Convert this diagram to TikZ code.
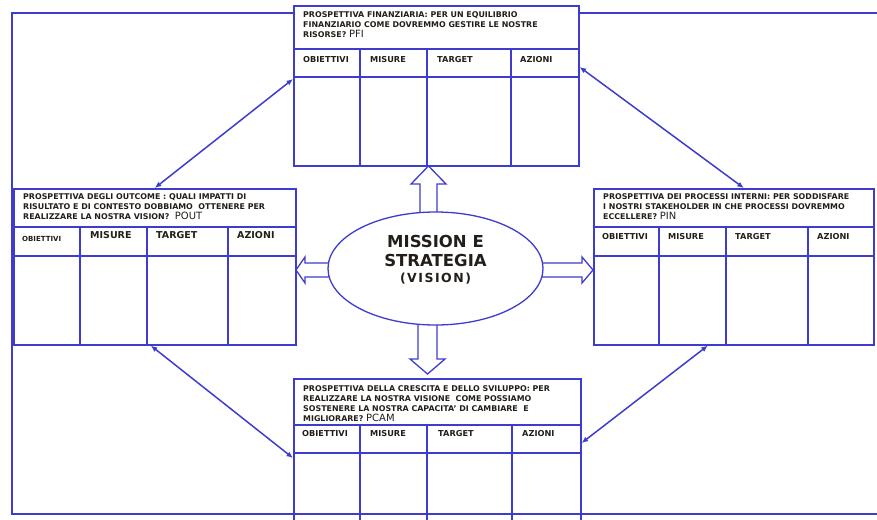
\documentclass[tikz,border=0pt]{standalone}
\usepackage{fontspec}
\setmainfont{DejaVu Sans}
\usetikzlibrary{shapes.geometric,arrows.meta}

\definecolor{blu}{RGB}{62,60,206}
\definecolor{inchiostro}{RGB}{35,30,25}

\tikzset{
  cornice/.style={draw=blu, line width=1.6pt, rectangle, inner sep=0pt, anchor=north west},
  griglia/.style={draw=blu, line width=1.6pt},
  domanda/.style={anchor=north west, inner sep=0pt, align=left, text=inchiostro, font=\fontsize{7.9}{10}\selectfont\bfseries},
  voce/.style={anchor=base west, inner sep=0pt, text=inchiostro, font=\fontsize{8.2}{9}\selectfont\bfseries},
  vocegrande/.style={voce, font=\fontsize{9.5}{10}\selectfont\bfseries},
  legame/.style={blu, line width=1.5pt, {Latex[length=6.5pt,width=5.5pt]}-{Latex[length=6.5pt,width=5.5pt]}},
  blocco/.style={draw=blu, line width=1.3pt, fill=white, line join=miter},
}
\newcommand{\sigla}[1]{{\fontsize{10}{10}\selectfont\mdseries #1}}

\begin{document}
\begin{tikzpicture}[x=1pt,y=-1pt]
\useasboundingbox (0,0) rectangle (877,519);

% cornice esterna
\draw[griglia] (877,13) -- (12,13) -- (12,514) -- (877,514);

% prospettiva finanziaria
\node[cornice, fill=white, minimum width=285pt, minimum height=43pt] (pfi) at (293,5) {};
\node[cornice, minimum width=285pt, minimum height=117pt] (pfitab) at (293,48) {};
\draw[griglia] (293,77) -- (578,77);
\foreach \x in {360,427,511}
  \draw[griglia] (\x,48) -- (\x,165);
\node[domanda] (pfitxt) at (303,11) {PROSPETTIVA FINANZIARIA: PER UN EQUILIBRIO\\FINANZIARIO COME DOVREMMO GESTIRE LE NOSTRE\\RISORSE? \sigla{PFI}};
\foreach \x/\t [count=\i] in {303/OBIETTIVI,370/MISURE,437/TARGET,520/AZIONI}
  \node[voce] (pfi\i) at (\x,63) {\t};

% prospettiva degli outcome
\node[cornice, fill=white, minimum width=282pt, minimum height=38pt] (pout) at (13,188) {};
\node[cornice, minimum width=282pt, minimum height=118pt] (pouttab) at (13,226) {};
\draw[griglia] (13,256) -- (295,256);
\foreach \x in {80,147,228}
  \draw[griglia] (\x,226) -- (\x,344);
\node[domanda] (pouttxt) at (23,193) {PROSPETTIVA DEGLI OUTCOME : QUALI IMPATTI DI\\RISULTATO E DI CONTESTO DOBBIAMO \ OTTENERE PER\\REALIZZARE LA NOSTRA VISION? \ \sigla{POUT}};
\node[voce, font=\fontsize{7}{8}\selectfont\bfseries] (pout1) at (22,241) {OBIETTIVI};
\foreach \x/\t [count=\i from 2] in {90/MISURE,156/TARGET,237/AZIONI}
  \node[vocegrande] (pout\i) at (\x,238) {\t};

% prospettiva dei processi interni
\node[cornice, fill=white, minimum width=280pt, minimum height=38pt] (pin) at (593,188) {};
\node[cornice, minimum width=280pt, minimum height=118pt] (pintab) at (593,226) {};
\draw[griglia] (593,256) -- (873,256);
\foreach \x in {659,726,808}
  \draw[griglia] (\x,226) -- (\x,344);
\node[domanda] (pintxt) at (603,193) {PROSPETTIVA DEI PROCESSI INTERNI: PER SODDISFARE\\I NOSTRI STAKEHOLDER IN CHE PROCESSI DOVREMMO\\ECCELLERE? \sigla{PIN}};
\foreach \x/\t [count=\i] in {602/OBIETTIVI,668/MISURE,735/TARGET,817/AZIONI}
  \node[voce] (pin\i) at (\x,239) {\t};

% prospettiva della crescita
\node[cornice, fill=white, minimum width=287pt, minimum height=46pt] (pcam) at (293,378) {};
\node[cornice, minimum width=287pt, minimum height=100pt] (pcamtab) at (293,424) {};
\draw[griglia] (293,453) -- (580,453);
\foreach \x in {360,427,512}
  \draw[griglia] (\x,424) -- (\x,524);
\node[domanda] (pcamtxt) at (303,385) {PROSPETTIVA DELLA CRESCITA E DELLO SVILUPPO: PER\\REALIZZARE LA NOSTRA VISIONE \ COME POSSIAMO\\SOSTENERE LA NOSTRA CAPACITA' DI CAMBIARE \ E\\MIGLIORARE? \sigla{PCAM}};
\foreach \x/\t [count=\i] in {302/OBIETTIVI,370/MISURE,438/TARGET,522/AZIONI}
  \node[voce] (pcam\i) at (\x,436) {\t};

% frecce piene
\draw[blocco] (420,220) -- (420,184) -- (411,184) -- (428.5,166) -- (446,184) -- (437,184) -- (437,220);
\draw[blocco] (418,318) -- (418,359) -- (410,359) -- (427.5,374) -- (445,359) -- (437,359) -- (437,318);
\draw[blocco] (336,263) -- (305,263) -- (305,257) -- (296,270) -- (305,283) -- (305,277) -- (336,277);
\draw[blocco] (535,263) -- (582,263) -- (582,257) -- (593,270) -- (582,283) -- (582,277) -- (535,277);

% mission
\node[ellipse, draw=blu, line width=1.3pt, fill=white, minimum width=215pt, minimum height=113pt, inner sep=0pt] (ms) at (435.5,268.5) {};
\node[align=center, anchor=north, inner sep=0pt, text=inchiostro, font=\fontsize{16.5}{19}\selectfont\bfseries] (mstxt) at (435.5,235) {MISSION E\\STRATEGIA\\[-3pt]{\fontsize{12.5}{13}\selectfont\addfontfeature{LetterSpace=12}(VISION)}};

% legami
\draw[legame] (pout.north) -- ([yshift=-31pt]pfitab.north west);
\draw[legame] ([yshift=-19pt]pfitab.north east) -- ([xshift=10pt]pin.north);
\draw[legame] ([xshift=-26pt]pintab.south) -- ([yshift=-19pt]pcamtab.north east);
\draw[legame] ([xshift=-4pt]pouttab.south) -- ([yshift=-34pt]pcamtab.north west);

\end{tikzpicture}
\end{document}
